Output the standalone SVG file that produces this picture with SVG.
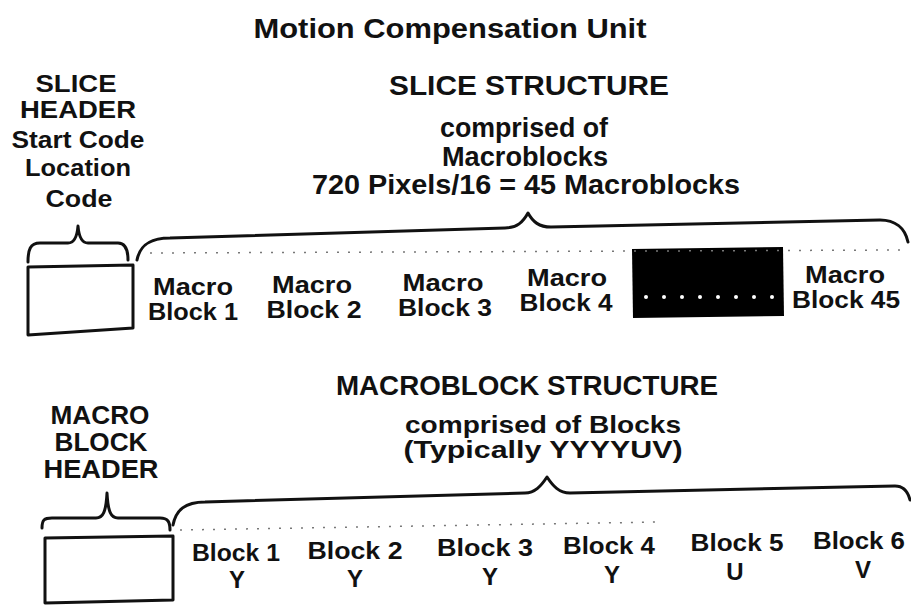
<svg xmlns="http://www.w3.org/2000/svg" width="911" height="607" viewBox="0 0 911 607">
<style>
text{font-family:"Liberation Sans",Arial,sans-serif;fill:#111;text-anchor:middle;font-weight:bold}
.t{font-size:24px}
.m{font-size:25px}
.h{font-size:27px}
.s{font-size:24px}
.lb{font-size:24px}
.title{font-size:27px}
.ln{fill:none;stroke:#111;stroke-width:3;stroke-linejoin:round;stroke-linecap:round}
.dot{fill:none;stroke:#777;stroke-width:1.5;stroke-dasharray:2 9}
</style>
<rect width="911" height="607" fill="#fff"/>
<text class="title" x="450" y="38" textLength="393" lengthAdjust="spacingAndGlyphs">Motion Compensation Unit</text>

<g id="slice-header">
<text class="t" x="76" y="92" textLength="81" lengthAdjust="spacingAndGlyphs">SLICE</text>
<text class="t" x="78" y="118" textLength="116" lengthAdjust="spacingAndGlyphs">HEADER</text>
<text class="t" x="78" y="148" textLength="133" lengthAdjust="spacingAndGlyphs">Start Code</text>
<text class="t" x="78" y="176" textLength="106" lengthAdjust="spacingAndGlyphs">Location</text>
<text class="t" x="79" y="207" textLength="67" lengthAdjust="spacingAndGlyphs">Code</text>
<path class="ln" d="M28,335 L28,267 L133,265 L133,328 Z"/>
</g>
<g id="slice-structure">
<text class="h" x="529" y="95" textLength="280" lengthAdjust="spacingAndGlyphs">SLICE STRUCTURE</text>
<text class="h" x="524" y="137" textLength="168" lengthAdjust="spacingAndGlyphs">comprised of</text>
<text class="h" x="525" y="166" textLength="166" lengthAdjust="spacingAndGlyphs">Macroblocks</text>
<text class="h" x="526" y="194" textLength="428" lengthAdjust="spacingAndGlyphs">720 Pixels/16 = 45 Macroblocks</text>
</g>
<g id="mb1"><text class="lb" x="193" y="295" textLength="80" lengthAdjust="spacingAndGlyphs">Macro</text><text class="lb" x="193" y="320" textLength="90" lengthAdjust="spacingAndGlyphs">Block 1</text></g>
<g id="mb2"><text class="lb" x="312" y="293" textLength="80" lengthAdjust="spacingAndGlyphs">Macro</text><text class="lb" x="314" y="318" textLength="95" lengthAdjust="spacingAndGlyphs">Block 2</text></g>
<g id="mb3"><text class="lb" x="443" y="291" textLength="81" lengthAdjust="spacingAndGlyphs">Macro</text><text class="lb" x="445" y="316" textLength="94" lengthAdjust="spacingAndGlyphs">Block 3</text></g>
<g id="mb4"><text class="lb" x="567" y="286" textLength="80" lengthAdjust="spacingAndGlyphs">Macro</text><text class="lb" x="566" y="311" textLength="93" lengthAdjust="spacingAndGlyphs">Block 4</text></g>
<g id="mb-gap">
<path d="M632,249 L783,247 L784,316 L633,318 Z" fill="#000"/>
<g fill="#fff"><circle cx="646" cy="297" r="2"/><circle cx="664" cy="297" r="2"/><circle cx="682" cy="297" r="2"/><circle cx="700" cy="297" r="2"/><circle cx="718" cy="297" r="2"/><circle cx="736" cy="297" r="2"/><circle cx="754" cy="297" r="2"/><circle cx="772" cy="297" r="2"/></g>
</g>
<g id="mb45"><text class="lb" x="845" y="283" textLength="80" lengthAdjust="spacingAndGlyphs">Macro</text><text class="lb" x="846" y="308" textLength="108" lengthAdjust="spacingAndGlyphs">Block 45</text></g>

<g id="mb-header">
<text class="m" x="100" y="424" textLength="99" lengthAdjust="spacingAndGlyphs">MACRO</text>
<text class="m" x="101" y="451" textLength="93" lengthAdjust="spacingAndGlyphs">BLOCK</text>
<text class="m" x="101" y="478" textLength="115" lengthAdjust="spacingAndGlyphs">HEADER</text>
<path class="ln" d="M45,603 L45,538 L173,536 L173,600 Z"/>
</g>
<g id="mb-structure">
<text class="h" x="527" y="395" textLength="382" lengthAdjust="spacingAndGlyphs">MACROBLOCK STRUCTURE</text>
<text class="s" x="543" y="433" textLength="276" lengthAdjust="spacingAndGlyphs">comprised of Blocks</text>
<text class="s" x="543" y="458" textLength="279" lengthAdjust="spacingAndGlyphs">(Typically YYYYUV)</text>
</g>
<g id="b1"><text class="lb" x="236" y="561" textLength="88" lengthAdjust="spacingAndGlyphs">Block 1</text><text class="lb" x="237" y="588">Y</text></g>
<g id="b2"><text class="lb" x="355" y="559" textLength="95" lengthAdjust="spacingAndGlyphs">Block 2</text><text class="lb" x="355" y="587">Y</text></g>
<g id="b3"><text class="lb" x="485" y="556" textLength="96" lengthAdjust="spacingAndGlyphs">Block 3</text><text class="lb" x="490" y="585">Y</text></g>
<g id="b4"><text class="lb" x="609" y="554" textLength="92" lengthAdjust="spacingAndGlyphs">Block 4</text><text class="lb" x="612" y="583">Y</text></g>
<g id="b5"><text class="lb" x="737" y="551" textLength="93" lengthAdjust="spacingAndGlyphs">Block 5</text><text class="lb" x="735" y="580">U</text></g>
<g id="b6"><text class="lb" x="859" y="549" textLength="92" lengthAdjust="spacingAndGlyphs">Block 6</text><text class="lb" x="863" y="578">V</text></g>

<g id="connectors">
<path class="ln" d="M28,262 C28,250 30,243 40,243 L68,243 C74,243 77,238 78,226 C79,238 82,243 88,243 L118,243 C126,243 128,250 128,260"/>
<path class="ln" d="M137,260 C140,245 150,238 170,238 L505,228 C517,228 523,222 528,213 C533,222 539,227 551,227 L880,220 C895,220 905,228 908,242"/>
<path class="dot" d="M150,253 L905,250"/>
<path class="ln" d="M42,528 C42,520 44,518 52,518 L96,518 C103,518 106,512 107,493 C108,512 111,518 118,518 L160,518 C168,518 170,522 170,530"/>
<path class="ln" d="M173,525 C176,510 185,502 205,502 L525,493 C535,493 541,486 547,477 C553,486 559,493 570,493 L895,486 C903,486 908,492 910,500"/>
<path class="dot" d="M180,530 L660,522"/>
</g>
</svg>
